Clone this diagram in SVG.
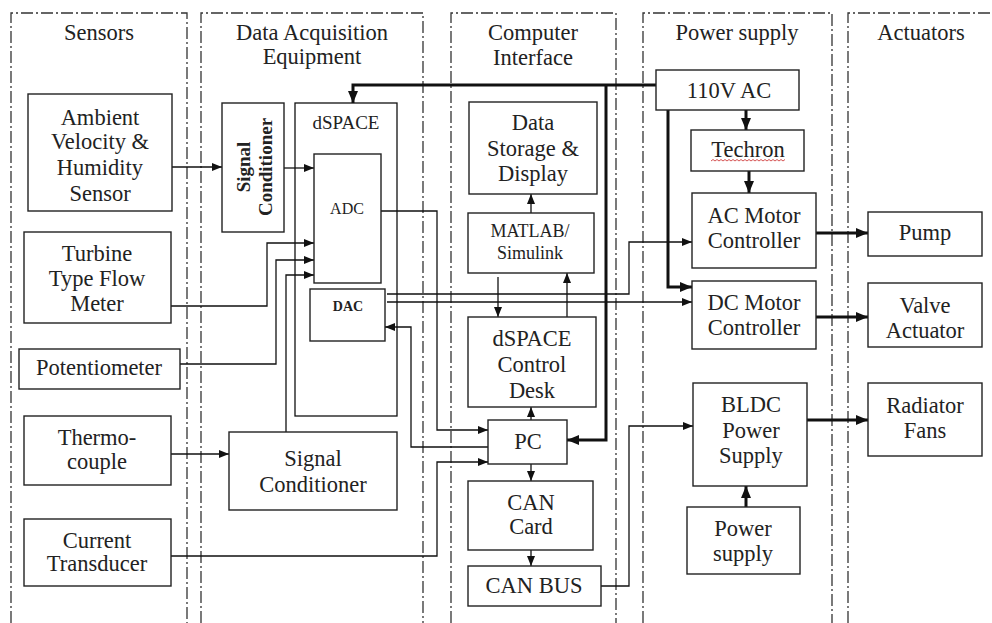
<svg xmlns="http://www.w3.org/2000/svg" width="992" height="623" viewBox="0 0 992 623" font-family="'Liberation Serif', 'DejaVu Serif', serif">
<defs>
<style>
text{font-family:'Liberation Serif','DejaVu Serif',serif;font-size:22.5px;fill:#222;text-anchor:middle;dominant-baseline:central}
.lane{fill:none;stroke:#333;stroke-width:1.3;stroke-dasharray:12 3 2 3}
.box{fill:#fff;stroke:#222;stroke-width:1.4}
.thin{fill:none;stroke:#111;stroke-width:1.3;marker-end:url(#ah)}
.thick{fill:none;stroke:#111;stroke-width:3;marker-end:url(#ahb)}
.plain{fill:none;stroke:#111;stroke-width:1.3}
</style>
<marker id="ah" markerUnits="userSpaceOnUse" markerWidth="11" markerHeight="9" refX="10" refY="4" orient="auto"><path d="M0,0 L10,4 L0,8 z" fill="#111"/></marker>
<marker id="ahb" markerUnits="userSpaceOnUse" markerWidth="13" markerHeight="11" refX="12" refY="5" orient="auto"><path d="M0,0 L12,5 L0,10 z" fill="#111"/></marker>
</defs>
<rect width="992" height="623" fill="#fff"/>

<g id="lanes">
<path class="lane" d="M11,623 V13 H187 V623"/>
<path class="lane" d="M201,623 V13 H423 V623"/>
<path class="lane" d="M451,623 V13 H616 V623"/>
<path class="lane" d="M643,623 V13 H832 V623"/>
<path class="lane" d="M848,623 V13 H995"/>
<text x="99" y="32">Sensors</text>
<text x="312" y="32">Data Acquisition</text>
<text x="312" y="56">Equipment</text>
<text x="533" y="32">Computer</text>
<text x="533" y="57">Interface</text>
<text x="737" y="32">Power supply</text>
<text x="921" y="32">Actuators</text>
</g>

<g id="connectors">
<path class="thin" d="M172,167 H222"/>
<path class="thin" d="M284,168 H314"/>
<path class="thin" d="M171,306 H267 V243 H314"/>
<path class="thin" d="M180,364 H276 V260 H314"/>
<path class="thin" d="M286,432 V275 H314"/>
<path class="thin" d="M171,454 H229"/>
<path class="thin" d="M171,556 H437 V462 H488"/>
<path class="thin" d="M381,211 H437 V430 H488"/>
<path class="thin" d="M488,447 H411 V327 H385"/>
<path class="thin" d="M387,294 H629 V242 H692"/>
<path class="thin" d="M387,302 H692"/>
<path class="thin" d="M498,277 V317"/>
<path class="thin" d="M567,317 V273"/>
<path class="thin" d="M531,213 V194"/>
<path class="thin" d="M531,420 V407"/>
<path class="thin" d="M531,464 V481"/>
<path class="thin" d="M531,550 V566"/>
<path class="thin" d="M601,586 H629 V426 H693"/>
<path class="thick" d="M656,85 H353 V103"/>
<path class="thick" d="M606,85 V440 H567"/>
<path class="thick" d="M746,110 V130"/>
<path class="thick" d="M749,171 V193"/>
<path class="thick" d="M668,110 V287 H692"/>
<path class="thick" d="M816,233 H868"/>
<path class="thick" d="M816,317 H868"/>
<path class="thick" d="M807,420 H868"/>
<path class="thick" d="M746,507 V486"/>
</g>

<g id="ambient"><rect class="box" x="28" y="94" width="144" height="117"/>
<text x="100" y="117">Ambient</text><text x="100" y="141">Velocity &amp;</text><text x="100" y="167">Humidity</text><text x="100" y="193">Sensor</text></g>
<g id="turbine"><rect class="box" x="24" y="232" width="147" height="91"/>
<text x="97" y="253">Turbine</text><text x="97" y="278">Type Flow</text><text x="97" y="303">Meter</text></g>
<g id="potentiometer"><rect class="box" x="19" y="349" width="161" height="40"/>
<text x="99" y="367">Potentiometer</text></g>
<g id="thermocouple"><rect class="box" x="24" y="416" width="147" height="69"/>
<text x="97" y="437">Thermo-</text><text x="97" y="461">couple</text></g>
<g id="current"><rect class="box" x="24" y="519" width="147" height="67"/>
<text x="97" y="540">Current</text><text x="97" y="563">Transducer</text></g>

<g id="sigcond1"><rect class="box" x="222" y="103" width="62" height="129"/>
<g transform="translate(243,167) rotate(-90)"><text x="0" y="0" style="font-weight:bold;font-size:19px">Signal</text><text x="0" y="22" style="font-weight:bold;font-size:19px">Conditioner</text></g></g>
<g id="dspace"><rect class="plain" x="295" y="103" width="102" height="313"/>
<text x="346" y="122" style="font-size:19px">dSPACE</text></g>
<g id="adc"><rect class="box" x="314" y="154" width="67" height="129"/>
<text x="347" y="208" style="font-size:16px">ADC</text></g>
<g id="dac"><rect class="box" x="310" y="289" width="75" height="52"/>
<text x="348" y="306" style="font-size:14px;font-weight:bold">DAC</text></g>
<g id="sigcond2"><rect class="box" x="229" y="432" width="168" height="78"/>
<text x="313" y="458">Signal</text><text x="313" y="484">Conditioner</text></g>

<g id="datastorage"><rect class="box" x="469" y="102" width="128" height="92"/>
<text x="533" y="122">Data</text><text x="533" y="148">Storage &amp;</text><text x="533" y="173">Display</text></g>
<g id="matlab"><rect class="box" x="468" y="213" width="126" height="60"/>
<text x="530" y="231" style="font-size:18px">MATLAB/</text><text x="530" y="253" style="font-size:18px">Simulink</text></g>
<g id="controldesk"><rect class="box" x="468" y="317" width="128" height="90"/>
<text x="532" y="338">dSPACE</text><text x="532" y="364">Control</text><text x="532" y="390">Desk</text></g>
<g id="pc"><rect class="box" x="488" y="420" width="79" height="44"/>
<text x="528" y="441">PC</text></g>
<g id="cancard"><rect class="box" x="468" y="481" width="125" height="69"/>
<text x="531" y="502">CAN</text><text x="531" y="526">Card</text></g>
<g id="canbus"><rect class="box" x="468" y="566" width="133" height="40"/>
<text x="534" y="585">CAN BUS</text></g>

<g id="ac110"><rect class="box" x="656" y="70" width="143" height="40"/>
<text x="729" y="90">110V AC</text></g>
<g id="techron"><rect class="box" x="691" y="130" width="113" height="41"/>
<text x="748" y="149">Techron</text>
<path d="M711,161 l2,-1.5 l2,1.5 l2,-1.5 l2,1.5 l2,-1.5 l2,1.5 l2,-1.5 l2,1.5 l2,-1.5 l2,1.5 l2,-1.5 l2,1.5 l2,-1.5 l2,1.5 l2,-1.5 l2,1.5 l2,-1.5 l2,1.5 l2,-1.5 l2,1.5 l2,-1.5 l2,1.5 l2,-1.5 l2,1.5 l2,-1.5 l2,1.5 l2,-1.5 l2,1.5 l2,-1.5 l2,1.5 l2,-1.5 l2,1.5 l2,-1.5 l2,1.5 l2,-1.5 l2,1.5 l2,-1.5" fill="none" stroke="#d04040" stroke-width="0.9"/></g>
<g id="acmotor"><rect class="box" x="692" y="193" width="124" height="75"/>
<text x="754" y="215">AC Motor</text><text x="754" y="240">Controller</text></g>
<g id="dcmotor"><rect class="box" x="692" y="281" width="124" height="68"/>
<text x="754" y="302">DC Motor</text><text x="754" y="327">Controller</text></g>
<g id="bldc"><rect class="box" x="693" y="383" width="114" height="103"/>
<text x="751" y="404">BLDC</text><text x="751" y="430">Power</text><text x="751" y="455">Supply</text></g>
<g id="powersupply"><rect class="box" x="687" y="507" width="113" height="67"/>
<text x="743" y="528">Power</text><text x="743" y="553">supply</text></g>

<g id="pump"><rect class="box" x="868" y="212" width="114" height="44"/>
<text x="925" y="232">Pump</text></g>
<g id="valve"><rect class="box" x="868" y="283" width="114" height="64"/>
<text x="925" y="305">Valve</text><text x="925" y="330">Actuator</text></g>
<g id="radiator"><rect class="box" x="868" y="383" width="114" height="73"/>
<text x="925" y="405">Radiator</text><text x="925" y="430">Fans</text></g>
</svg>
